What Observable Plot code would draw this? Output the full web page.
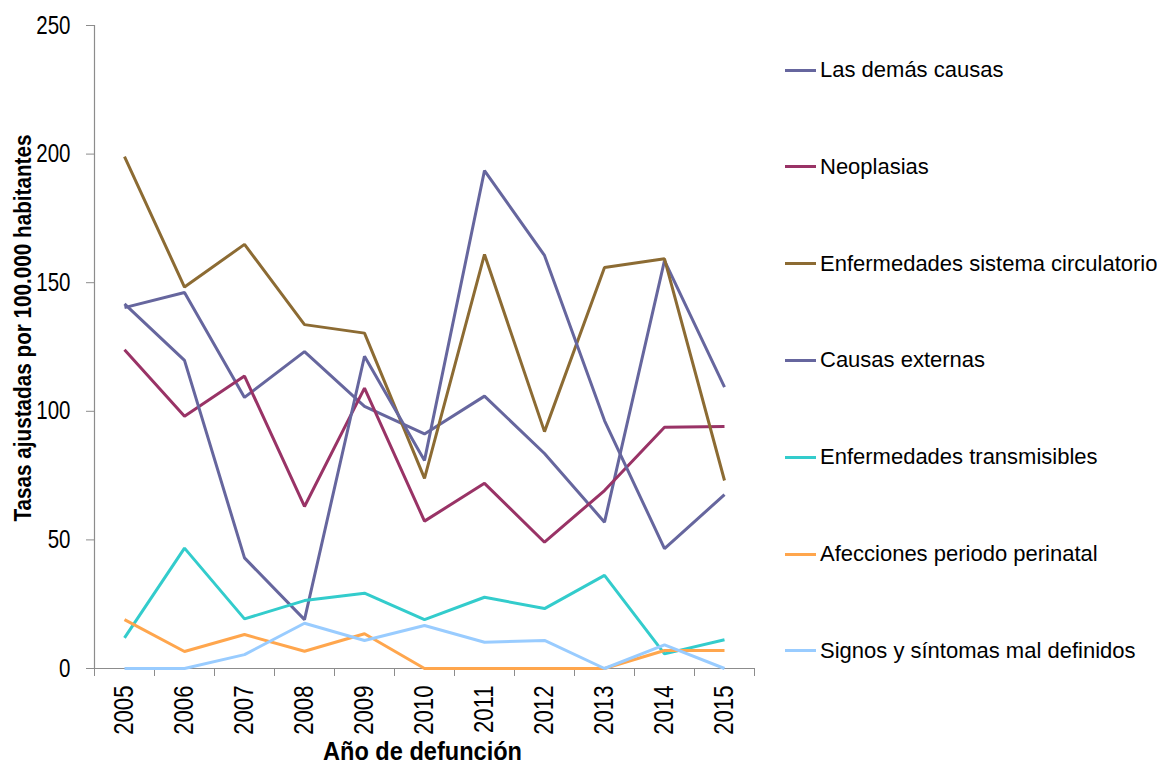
<!DOCTYPE html>
<html>
<head>
<meta charset="utf-8">
<script src="https://cdn.jsdelivr.net/npm/d3@7"></script>
<script src="https://cdn.jsdelivr.net/npm/@observablehq/plot@0.6"></script>
<style>
  html, body { margin: 0; padding: 0; background: #fff; }
  #wrap { position: relative; width: 1157px; height: 766px; font-family: "Liberation Sans", Arial, sans-serif; }
  #wrap svg { position: absolute; left: 0; top: 0; font-family: "Liberation Sans", Arial, sans-serif; }
  g[aria-label="y-axis tick"], g[aria-label="x-axis tick"] { stroke: #8c8c8c; }
  g[aria-label="y-axis tick label"], g[aria-label="x-axis tick label"] { fill: #000; }
  #legend { position: absolute; left: 0; top: 0; }
  .row { position: absolute; left: 785px; height: 26px; display: flex; align-items: center; white-space: nowrap; font-size: 22px; color: #000; }
  .sw { width: 31px; height: 3px; margin-right: 4px; }
</style>
</head>
<body>
<div id="wrap"><div id="legend"></div></div>
<script>
const years = [2005, 2006, 2007, 2008, 2009, 2010, 2011, 2012, 2013, 2014, 2015];
const seriesNames = [
  "Las demás causas",
  "Neoplasias",
  "Enfermedades sistema circulatorio",
  "Causas externas",
  "Enfermedades transmisibles",
  "Afecciones periodo perinatal",
  "Signos y síntomas mal definidos"
];
const seriesColors = ["#66669e", "#993366", "#8c6b33", "#66669e", "#33cccc", "#ffa64d", "#99ccff"];
const lasDemasCausas     = [140.3, 146.2, 105.4, 123.2, 101.9, 91.2, 105.9, 83.6, 56.9, 158.6, 109.4];
const neoplasias         = [123.9, 98.1, 113.7, 63.0, 109.0, 57.3, 72.0, 49.1, 69.2, 93.8, 94.1];
const circulatorio       = [199.0, 148.3, 164.9, 133.7, 130.4, 73.9, 161.0, 92.1, 155.9, 159.3, 73.1];
const causasExternas     = [141.8, 119.8, 43.0, 19.0, 121.4, 80.9, 193.6, 160.6, 96.4, 46.6, 67.6];
const transmisibles      = [11.9, 46.8, 19.3, 26.4, 29.3, 19.0, 27.7, 23.3, 36.2, 5.7, 11.2];
const perinatal          = [19.0, 6.6, 13.2, 6.7, 13.5, 0, 0, 0, 0, 7.0, 7.0];
const signosSintomas     = [0, 0, 5.4, 17.6, 10.9, 16.7, 10.2, 10.9, 0, 9.2, 0];
const yTicks = [0, 50, 100, 150, 200, 250];
const xTitle = "Año de defunción";
const yTitle = "Tasas ajustadas por 100.000 habitantes";

const seriesValues = [lasDemasCausas, neoplasias, circulatorio, causasExternas, transmisibles, perinatal, signosSintomas];
const data = seriesNames.flatMap((name, k) =>
  years.map((yr, i) => ({year: yr, value: seriesValues[k][i], serie: name, k})));
const boundaries = years.map(y => y - 0.5).concat([years[years.length - 1] + 0.5]);

const chart = Plot.plot({
  width: 1157,
  height: 766,
  marginTop: 25,
  marginBottom: 98,
  marginLeft: 94,
  marginRight: 403,
  x: {domain: [boundaries[0], boundaries[boundaries.length - 1]]},
  y: {domain: [yTicks[0], yTicks[yTicks.length - 1]]},
  color: {domain: d3.range(seriesNames.length), range: seriesColors},
  marks: [
    Plot.ruleX([boundaries[0]], {stroke: "#8c8c8c", strokeWidth: 1.2}),
    Plot.ruleY([yTicks[0]], {stroke: "#8c8c8c", strokeWidth: 1.2}),
    Plot.axisY({ticks: yTicks, tickSize: 8, tickPadding: 16, fontSize: 25, label: null}),
    Plot.axisX({ticks: boundaries, tickSize: 8, tickFormat: () => "", label: null}),
    Plot.axisX({ticks: years, tickSize: 0, tickPadding: 17, tickRotate: -90, fontSize: 27,
      tickFormat: d => String(d), label: null}),
    Plot.line(data, {x: "year", y: "value", z: "serie", stroke: "k", strokeWidth: 3, strokeLinejoin: "miter", strokeLinecap: "butt"}),
    Plot.text([xTitle], {frameAnchor: "bottom", dx: -2, dy: 91, fontSize: 26, className: "xtitle", fontWeight: "bold", fill: "#000"}),
    Plot.text([yTitle], {frameAnchor: "left", rotate: -90, dx: -71, dy: -19, fontSize: 23, className: "ytitle", fontWeight: "bold", fill: "#000"})
  ]
});
document.getElementById("wrap").prepend(chart);

// emulate a narrow typeface by compressing the glyphs horizontally
function squeeze(el, len) {
  el.setAttribute("textLength", len);
  el.setAttribute("lengthAdjust", "spacingAndGlyphs");
}
chart.querySelectorAll('g[aria-label="y-axis tick label"] text, g[aria-label="x-axis tick label"] text').forEach(t => {
  const L = t.getComputedTextLength();
  if (L > 0) squeeze(t, L * 0.82);
});
function squeezeCentered(el, len) {
  el.setAttribute("text-anchor", "start");
  el.setAttribute("x", -len / 2);
  squeeze(el, len);
}
chart.querySelectorAll('g.xtitle text').forEach(t => squeezeCentered(t, 199));
chart.querySelectorAll('g.ytitle text').forEach(t => squeezeCentered(t, 387));

const legend = document.getElementById("legend");
seriesNames.forEach((name, k) => {
  const row = document.createElement("div");
  row.className = "row";
  row.style.top = (57 + k * 96.8) + "px";
  const sw = document.createElement("span");
  sw.className = "sw";
  sw.style.background = seriesColors[k];
  const t = document.createElement("span");
  t.textContent = name;
  row.append(sw, t);
  legend.append(row);
});
</script>
</body>
</html>
